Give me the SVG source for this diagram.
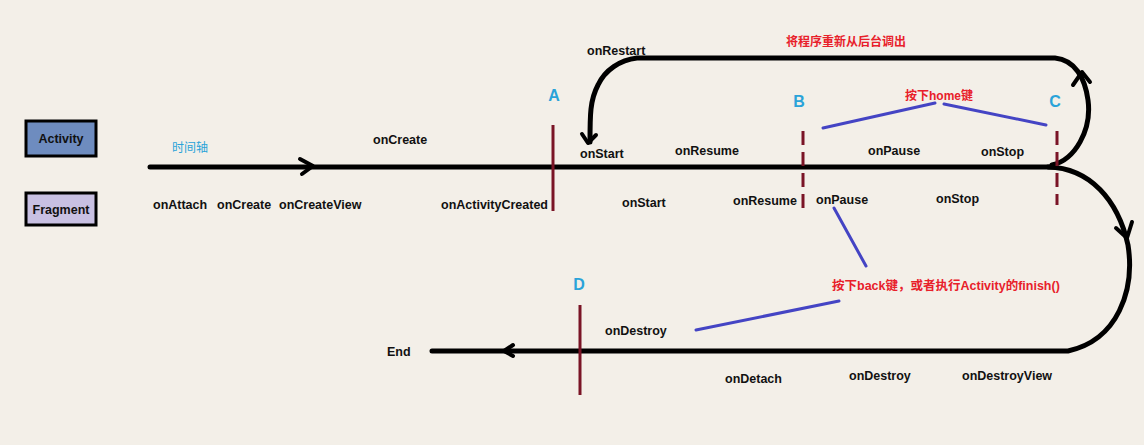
<svg xmlns="http://www.w3.org/2000/svg" width="1144" height="445" viewBox="0 0 1144 445">
<style>
.lbl{font-family:"Liberation Sans",Arial,sans-serif;font-weight:bold;font-size:12.5px;fill:#111}
.mark{font-family:"Liberation Sans",Arial,sans-serif;font-weight:bold;font-size:16px;fill:#2aa3d9;text-anchor:middle}
.red{font-family:"Liberation Sans","Noto Sans CJK SC",sans-serif;font-weight:bold;font-size:12px;fill:#e8202a}
.blue{font-family:"Noto Sans CJK SC",sans-serif;font-size:12px;fill:#2aa3d9}
.axis{fill:none;stroke:#000;stroke-width:5;stroke-linecap:round;stroke-linejoin:round}
.head{fill:none;stroke:#000;stroke-width:4;stroke-linecap:round;stroke-linejoin:round}
.sep{stroke:#7a1426;stroke-width:3}
.dash{stroke:#7a1426;stroke-width:3;stroke-dasharray:14,7}
.note{stroke:#4444c4;stroke-width:3;stroke-linecap:round}
</style>
<rect width="1144" height="445" fill="#f3efe8"/>
<g id="activity">
<rect x="26" y="121" width="70" height="35" fill="#6e8cbf" stroke="#000" stroke-width="3"/>
<text class="lbl" x="61" y="143" text-anchor="middle">Activity</text>
</g>
<g id="fragment">
<rect x="26" y="193" width="70" height="32" fill="#c8c0e2" stroke="#000" stroke-width="3"/>
<text class="lbl" x="61" y="214" text-anchor="middle">Fragment</text>
</g>
<g id="connectors">
<path class="axis" d="M150 167 L1055 167"/>
<path class="head" d="M300 159 L313 166 L302 174"/>
<path class="axis" d="M1052 165 C1075 160 1092 130 1088 100 C1085 78 1075 60 1055 58 L637 58 C620 60 605 70 598 85 C590 100 590 115 590 142"/>
<path class="head" d="M1073 85 L1082 72 L1090 82"/>
<path class="head" d="M582 134 L588 143 L596 135"/>
<path class="axis" d="M1048 167 C1090 168 1118 200 1128 245 C1135 290 1118 340 1068 351 L432 351"/>
<path class="head" d="M1116 228 L1127 238 L1132 222"/>
<path class="head" d="M513 345 L504 351 L513 356"/>
<line class="sep" x1="553" y1="125" x2="553" y2="211"/>
<line class="dash" x1="803" y1="131" x2="803" y2="213"/>
<line class="dash" x1="1057" y1="131" x2="1057" y2="205"/>
<line class="sep" x1="580" y1="305" x2="580" y2="395"/>
<line class="note" x1="823" y1="128" x2="935" y2="103"/>
<line class="note" x1="944" y1="104" x2="1046" y2="125"/>
<line class="note" x1="834" y1="208" x2="866" y2="266"/>
<line class="note" x1="839" y1="301" x2="696" y2="330"/>
</g>
<g id="labels">
<text class="blue" x="172" y="152">时间轴</text>
<text class="mark" x="554" y="101">A</text>
<text class="mark" x="799" y="107">B</text>
<text class="mark" x="1055" y="107">C</text>
<text class="mark" x="579" y="290">D</text>
<text class="red" x="786" y="46">将程序重新从后台调出</text>
<text class="red" x="905" y="100">按下home键</text>
<text class="red" x="832" y="290" style="font-size:12.5px">按下back键，或者执行Activity的finish()</text>
<text class="lbl" x="373" y="144">onCreate</text>
<text class="lbl" x="587" y="55">onRestart</text>
<text class="lbl" x="580" y="158">onStart</text>
<text class="lbl" x="675" y="155">onResume</text>
<text class="lbl" x="868" y="155">onPause</text>
<text class="lbl" x="981" y="156">onStop</text>
<text class="lbl" x="153" y="209">onAttach</text>
<text class="lbl" x="217" y="209">onCreate</text>
<text class="lbl" x="279" y="209">onCreateView</text>
<text class="lbl" x="441" y="209">onActivityCreated</text>
<text class="lbl" x="622" y="207">onStart</text>
<text class="lbl" x="733" y="205">onResume</text>
<text class="lbl" x="816" y="204">onPause</text>
<text class="lbl" x="936" y="203">onStop</text>
<text class="lbl" x="605" y="335">onDestroy</text>
<text class="lbl" x="387" y="356">End</text>
<text class="lbl" x="725" y="383">onDetach</text>
<text class="lbl" x="849" y="380">onDestroy</text>
<text class="lbl" x="962" y="380">onDestroyView</text>
</g>
</svg>
